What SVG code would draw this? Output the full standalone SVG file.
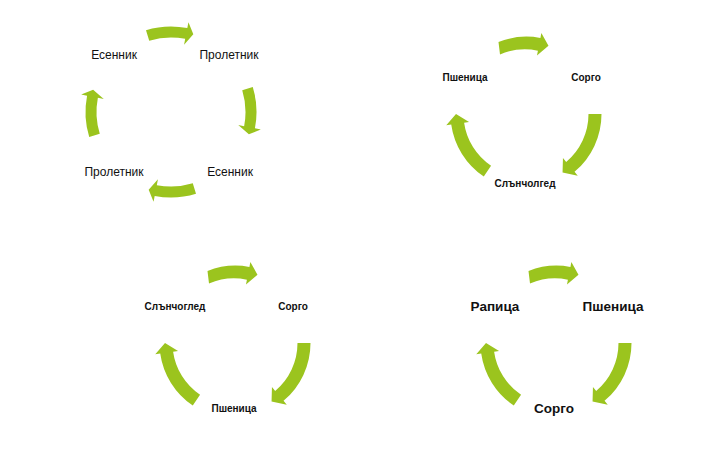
<svg xmlns="http://www.w3.org/2000/svg" xmlns:xlink="http://www.w3.org/1999/xlink" width="708" height="450" viewBox="0 0 708 450">
<style>
.arr{fill:#9bc41e}
.t1{font-family:"Liberation Sans",Arial,sans-serif;font-size:12px;fill:#111;text-anchor:middle}
.t2{font-family:"Liberation Sans",Arial,sans-serif;font-size:10px;font-weight:bold;fill:#111;text-anchor:middle}
.t3{font-family:"Liberation Sans",Arial,sans-serif;font-size:13.5px;font-weight:bold;fill:#111;text-anchor:middle}
</style>
<defs>
<path id="a4" class="arr" d="M-25,-81.76 A85.5 85.5 0 0 1 16.31,-83.93 L17.46,-89.82 L22.32,-77.87 L13.07,-67.24 L14.21,-73.13 A74.5 74.5 0 0 0 -21.78,-71.24 Z"/>
<path id="a3top" class="arr" d="M-27.5,-72 A75.5 75.5 0 0 1 14.41,-76.11 L15.36,-81.02 L22.47,-68.24 L10.97,-58.44 L11.93,-63.35 A62.5 62.5 0 0 0 -26,-59.5 Z"/>
<path id="a3right" class="arr" d="M75.5,0 A75.5 75.5 0 0 1 48.53,57.83 L51.75,61.66 L36.56,58.51 L36.96,44.05 L40.18,47.88 A62.5 62.5 0 0 0 62.5,0 Z"/>
<path id="a3left" class="arr" d="M-42.22,62.59 A75.5 75.5 0 0 1 -74.77,10.51 L-79.72,11.21 L-70,0 L-56.94,8 L-61.89,8.7 A62.5 62.5 0 0 0 -34.95,51.81 Z"/>
</defs>
<g id="connectors">
<g transform="translate(171,112)">
<use xlink:href="#a4"/>
<use xlink:href="#a4" transform="rotate(90)"/>
<use xlink:href="#a4" transform="rotate(180)"/>
<use xlink:href="#a4" transform="rotate(270)"/>
</g>
<g transform="translate(526,114)">
<use xlink:href="#a3top"/>
<use xlink:href="#a3right"/>
<use xlink:href="#a3left"/>
</g>
<g transform="translate(235,343)">
<use xlink:href="#a3top"/>
<use xlink:href="#a3right"/>
<use xlink:href="#a3left"/>
</g>
<g transform="translate(556,343)">
<use xlink:href="#a3top"/>
<use xlink:href="#a3right"/>
<use xlink:href="#a3left"/>
</g>
</g>
<g id="n1a"><text class="t1" x="114" y="59">Есенник</text></g>
<g id="n1b"><text class="t1" x="229" y="59">Пролетник</text></g>
<g id="n1c"><text class="t1" x="230" y="176">Есенник</text></g>
<g id="n1d"><text class="t1" x="114" y="176">Пролетник</text></g>
<g id="n2a"><text class="t2" x="465" y="81">Пшеница</text></g>
<g id="n2b"><text class="t2" x="586" y="81">Сорго</text></g>
<g id="n2c"><text class="t2" x="525" y="187">Слънчолгед</text></g>
<g id="n3a"><text class="t2" x="175" y="310">Слънчоглед</text></g>
<g id="n3b"><text class="t2" x="293" y="310">Сорго</text></g>
<g id="n3c"><text class="t2" x="234" y="412">Пшеница</text></g>
<g id="n4a"><text class="t3" x="495" y="311">Рапица</text></g>
<g id="n4b"><text class="t3" x="613" y="311">Пшеница</text></g>
<g id="n4c"><text class="t3" x="554" y="413">Сорго</text></g>
</svg>
